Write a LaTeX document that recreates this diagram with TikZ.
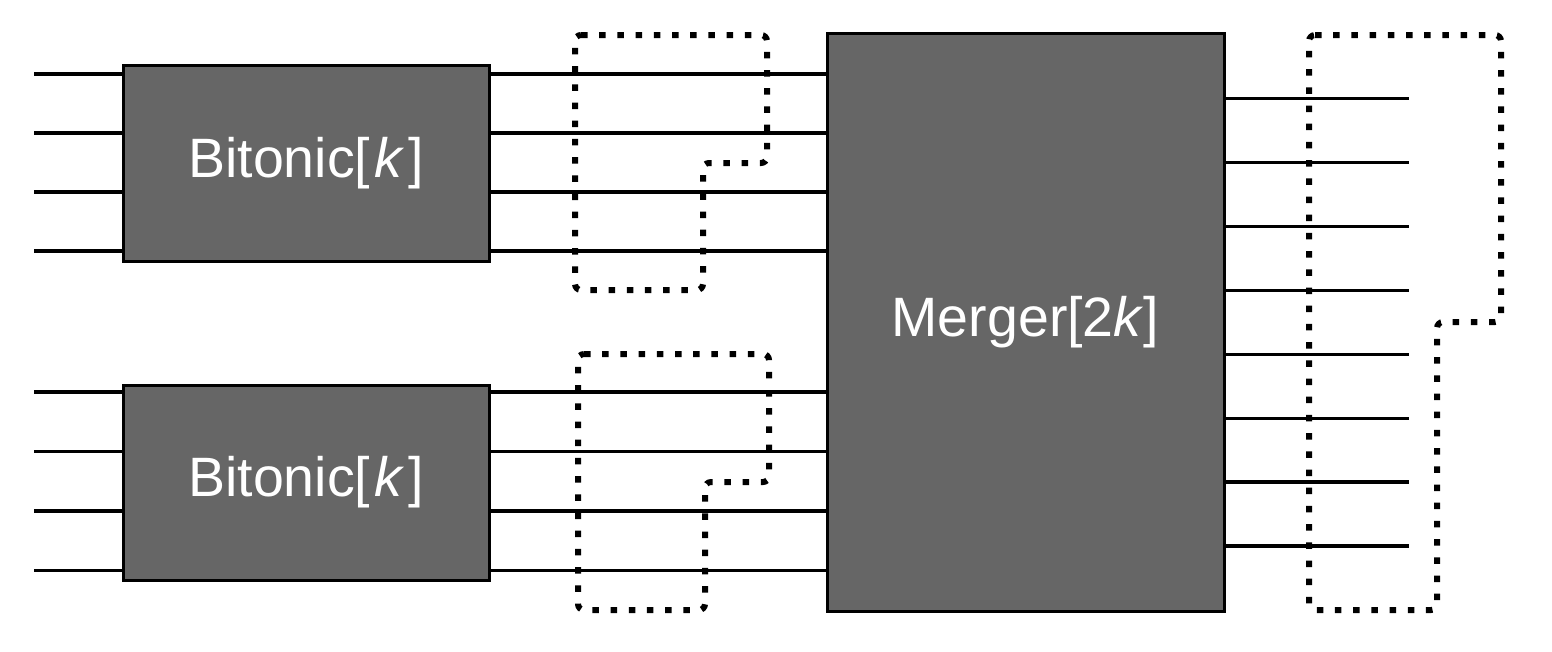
\documentclass[tikz,border=0pt]{standalone}
\usepackage{fontspec}
\setmainfont{Liberation Sans}
\begin{document}
\begin{tikzpicture}[x=1pt,y=-1pt,
  blk/.style={draw=black,line width=3pt,fill={rgb,255:red,102;green,102;blue,102},
    text=white,inner sep=0pt,outer sep=0pt,font=\fontsize{55.5}{60}\selectfont},
  wire/.style={draw=black,line width=3.2pt},
  dotbox/.style={draw=black,line width=6pt,dash pattern=on 6.5pt off 11.7pt,rounded corners=6pt}]
\useasboundingbox (0,0) rectangle (1552,651);
\fill[white] (0,0) rectangle (1552,651);
% blocks
\node[blk,minimum width=366pt,minimum height=196pt] (b1) at (306,163) {Bitonic[\kern0.07em\textit{k}\kern0.07em]};
\node[blk,minimum width=366pt,minimum height=195pt] (b2) at (306,482.5) {Bitonic[\kern0.07em\textit{k}\kern0.07em]};
\node[blk,minimum width=397pt,minimum height=578pt] (m) at (1025.5,322) {Merger[2\textit{k}]};
% input wires and wires between blocks
\foreach \y [count=\i] in {74,133,192,251} {
  \coordinate (ia\i) at (34,\y);
  \draw[wire] (ia\i) -- (ia\i -| b1.west);
  \draw[wire] (ia\i -| b1.east) -- (ia\i -| m.west);
}
\foreach \y [count=\i] in {392,451.5,511,570.5} {
  \coordinate (ib\i) at (34,\y);
  \draw[wire] (ib\i) -- (ib\i -| b2.west);
  \draw[wire] (ib\i -| b2.east) -- (ib\i -| m.west);
}
% output wires
\foreach \y [count=\i] in {98.7,162.7,226.7,290.7,354.7,418.3,482,546} {
  \coordinate (o\i) at (1409,\y);
  \draw[wire] (o\i -| m.east) -- (o\i);
}
% dotted outlines
\draw[dotbox] (575,35) -- (767,35) -- (767,163) -- (703,163) -- (703,290) -- (575,290) -- cycle;
\draw[dotbox] (578,354) -- (769,354) -- (769,482) -- (705,482) -- (705,610) -- (578,610) -- cycle;
\draw[dotbox] (1309,35) -- (1501,35) -- (1501,322) -- (1437,322) -- (1437,610) -- (1309,610) -- cycle;
\end{tikzpicture}
\end{document}
